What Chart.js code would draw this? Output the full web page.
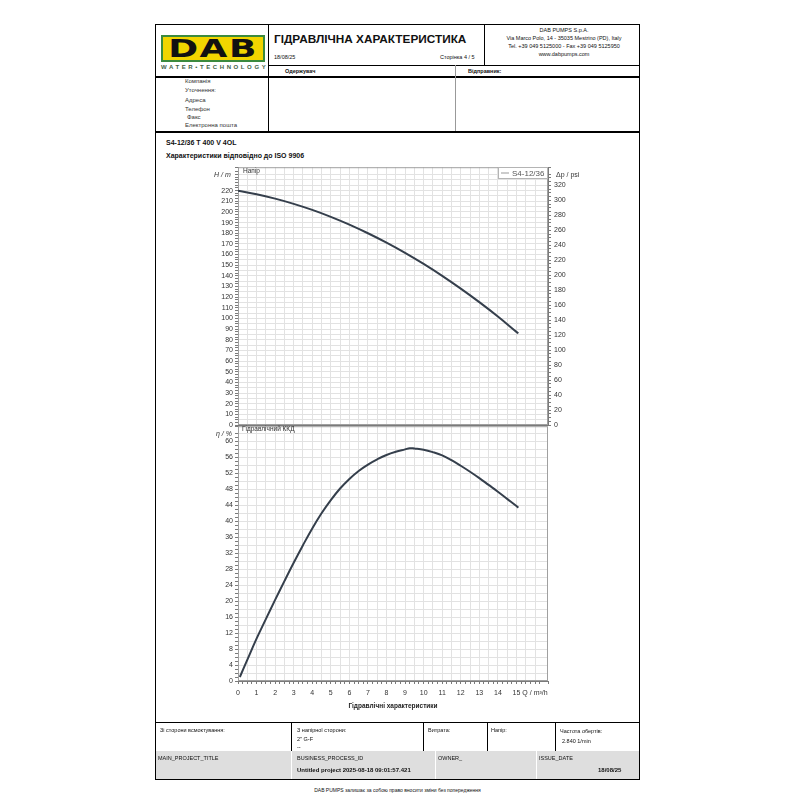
<!DOCTYPE html>
<html>
<head>
<meta charset="utf-8">
<script src="https://cdn.jsdelivr.net/npm/chart.js@4.4.0/dist/chart.umd.min.js"></script>
<style>
  body { margin: 0; background: #fff; font-family: "Liberation Sans", Arial, sans-serif; color: #111; }
  #page { position: relative; width: 800px; height: 800px; overflow: hidden; }
  .t { position: absolute; white-space: nowrap; line-height: 1; transform: translateY(-50%); }
  .b { font-weight: bold; }
  .h { position: absolute; height: 1px; background: #000; }
  .v { position: absolute; width: 1px; background: #000; }
  canvas { position: absolute; }
</style>
</head>
<body>
<div id="page">
  <!-- outer frame -->
  <div style="position:absolute;left:155px;top:24px;width:483px;height:754px;border:1.5px solid #000;"></div>

  <!-- header lines -->
  <div class="v" style="left:268px;top:24px;height:107px;"></div>
  <div class="v" style="left:484px;top:24px;height:41px;"></div>
  <div class="h" style="left:268px;top:65px;width:372px;"></div>
  <div class="h" style="left:155px;top:76px;width:485px;height:1.5px;"></div>
  <div class="v" style="left:455px;top:65px;height:66px;background:#999;"></div>
  <div class="h" style="left:155px;top:131px;width:485px;height:1.5px;"></div>

  <!-- logo -->
  <div style="position:absolute;left:161px;top:35px;width:100px;height:23px;background:#f2d500;border:2px solid #3b8a3e;overflow:hidden;">
    <div style="position:absolute;left:0;top:-2px;width:100px;text-align:center;font:900 24px 'DejaVu Sans';letter-spacing:1px;transform:scaleX(1.5);color:#111;">DAB</div>
  </div>
  <div class="t b" style="left:161px;top:67px;font-size:6px;letter-spacing:2.6px;color:#3f5f44;">WATER•TECHNOLOGY</div>

  <!-- title cell -->
  <div class="t b" style="left:274px;top:40px;font-size:11.8px;">ГІДРАВЛІЧНА ХАРАКТЕРИСТИКА</div>
  <div class="t" style="left:274px;top:58px;font-size:5.5px;">18/08/25</div>
  <div class="t" style="left:440px;top:58px;font-size:5.5px;">Сторінка 4 / 5</div>

  <!-- company cell -->
  <div class="t" style="left:488px;width:152px;text-align:center;top:31px;font-size:5.5px;">DAB PUMPS S.p.A.</div>
  <div class="t" style="left:488px;width:152px;text-align:center;top:39px;font-size:5.5px;">Via Marco Polo, 14 - 35035 Mestrino (PD), Italy</div>
  <div class="t" style="left:488px;width:152px;text-align:center;top:47px;font-size:5.5px;">Tel. +39 049 5125000 - Fax +39 049 5125950</div>
  <div class="t" style="left:488px;width:152px;text-align:center;top:55px;font-size:5.5px;">www.dabpumps.com</div>

  <div class="t b" style="left:285px;top:72px;font-size:5.5px;">Одержувач</div>
  <div class="t b" style="left:468px;top:72px;font-size:5.5px;">Відправник:</div>

  <div class="t" style="left:185px;top:81px;font-size:6px;color:#333;">Компанія</div>
  <div class="t" style="left:185px;top:90px;font-size:6px;color:#333;">Уточнення:</div>
  <div class="t" style="left:185px;top:100px;font-size:6px;color:#333;">Адреса</div>
  <div class="t" style="left:185px;top:109px;font-size:6px;color:#333;">Телефон</div>
  <div class="t" style="left:187px;top:117px;font-size:6px;color:#333;">Факс</div>
  <div class="t" style="left:185px;top:125px;font-size:6px;color:#333;">Електронна пошта</div>

  <!-- chart section titles -->
  <div class="t b" style="left:166px;top:142px;font-size:7px;">S4-12/36 T 400 V 4OL</div>
  <div class="t b" style="left:166px;top:155px;font-size:7px;">Характеристики відповідно до ISO 9906</div>

  <canvas id="headChart" width="440" height="275" style="left:160px;top:160px;"></canvas>
  <canvas id="effChart" width="440" height="300" style="left:160px;top:420px;"></canvas>

  <div class="t" style="left:214px;top:174px;font-size:7px;font-style:italic;color:#333;">H / m</div>
  <div class="t" style="left:556px;top:174px;font-size:7px;color:#333;">Δp / psi</div>
  <div class="t" style="left:243px;top:171px;font-size:6.5px;color:#333;">Напір</div>
  <div class="t" style="left:216px;top:433px;font-size:7px;font-style:italic;color:#333;">η / %</div>
  <div class="t" style="left:242px;top:429px;font-size:6.5px;color:#333;">Гідравлічний ККД</div>

  <!-- footer -->
  <div class="h" style="left:155px;top:722px;width:485px;"></div>
  <div class="v" style="left:291px;top:722px;height:29px;"></div>
  <div class="v" style="left:423px;top:722px;height:29px;"></div>
  <div class="v" style="left:487px;top:722px;height:29px;"></div>
  <div class="v" style="left:555px;top:722px;height:29px;"></div>
  <div class="t" style="left:160px;top:731px;font-size:5.5px;">Зі сторони всмоктування:</div>
  <div class="t" style="left:297px;top:731px;font-size:5.5px;">З напірної сторони:</div>
  <div class="t" style="left:297px;top:740px;font-size:5.5px;">2" G-F</div>
  <div class="t" style="left:297px;top:748px;font-size:5.5px;">--</div>
  <div class="t" style="left:428px;top:731px;font-size:5.5px;">Витрата:</div>
  <div class="t" style="left:491px;top:731px;font-size:5.5px;">Напір:</div>
  <div class="t" style="left:560px;top:732px;font-size:5.5px;">Частота обертів:</div>
  <div class="t" style="left:562px;top:742px;font-size:5.5px;">2.840 1/min</div>

  <div style="position:absolute;left:156px;top:751px;width:135px;height:28px;background:#dedede;"></div>
  <div style="position:absolute;left:292px;top:751px;width:143px;height:28px;background:#dedede;"></div>
  <div style="position:absolute;left:436px;top:751px;width:100px;height:28px;background:#dedede;"></div>
  <div style="position:absolute;left:537px;top:751px;width:102px;height:28px;background:#dedede;"></div>
  <div class="t" style="left:158px;top:759px;font-size:5.5px;">MAIN_PROJECT_TITLE</div>
  <div class="t" style="left:297px;top:759px;font-size:5.5px;">BUSINESS_PROCESS_ID</div>
  <div class="t b" style="left:297px;top:770px;font-size:6px;">Untitled project 2025-08-18 09:01:57.421</div>
  <div class="t" style="left:438px;top:759px;font-size:5.5px;">OWNER_</div>
  <div class="t" style="left:539px;top:759px;font-size:5.5px;">ISSUE_DATE</div>
  <div class="t b" style="left:598px;top:770px;font-size:6px;">18/08/25</div>

  <div class="t" style="left:0;width:795px;text-align:center;top:790px;font-size:5px;">DAB PUMPS залишає за собою право вносити зміни без попередження</div>
</div>

<script>
// head curve H(Q)
const flowQ = [0, 1, 2, 3, 4, 5, 6, 7, 8, 9, 10, 11, 12, 13, 14, 15, 15.1];
const headH = [220, 216.6, 212.5, 207.6, 201.9, 195.4, 188.1, 180.0, 171.2, 161.6, 151.2, 140.0, 128.0, 115.3, 101.8, 87.4, 86.0];

// hydraulic efficiency curve
const effQ = [0.1, 0.5, 1, 1.5, 2, 2.5, 3, 3.5, 4, 4.5, 5, 5.5, 6, 6.5, 7, 7.5, 8, 8.5, 9, 9.25, 9.5, 10, 10.5, 11, 11.5, 12, 12.5, 13, 13.5, 14, 14.5, 15, 15.1];
const effPct = [1.0, 5.3, 10.6, 15.5, 20.3, 25.0, 29.6, 34.0, 38.2, 42.0, 45.3, 48.2, 50.6, 52.6, 54.2, 55.5, 56.6, 57.4, 58.0, 58.3, 58.2, 57.9, 57.3, 56.5, 55.3, 53.9, 52.4, 50.8, 49.1, 47.4, 45.6, 43.8, 43.4];

const seriesName = 'S4-12/36';
const Q_MAX = 16.7;
const H_MAX = 242;
const M_TO_PSI = 1.42233;
const ETA_MAX = 63.8;

const CURVE = '#353f4c';
const GRID = '#e2e2e2';
const AXIS = '#7a7a7a';
const FONT = '"Liberation Sans", Arial, sans-serif';

Chart.defaults.font.family = FONT;
Chart.defaults.font.size = 7;
Chart.defaults.color = '#333';

const isMult = (v, m) => Math.abs(v / m - Math.round(v / m)) < 1e-6;
const gridEvery = (m) => (c) => (c.tick && isMult(c.tick.value, m)) ? GRID : 'rgba(0,0,0,0)';

const framePlugin = {
  id: 'frame',
  beforeDatasetsDraw(chart) {
    const { ctx, chartArea: a } = chart;
    ctx.save();
    ctx.strokeStyle = '#a0a0a0';
    ctx.lineWidth = 1;
    ctx.strokeRect(a.left + 0.5, a.top + 0.5, a.right - a.left - 1, a.bottom - a.top - 1);
    ctx.restore();
  },
};

// small boxed legend in the top-right corner of the plot
const cornerLegendPlugin = {
  id: 'cornerLegend',
  afterDraw(chart) {
    const { ctx, chartArea: a } = chart;
    const label = chart.data.datasets[0].label;
    ctx.save();
    ctx.font = '8px ' + FONT;
    const w = Math.round(ctx.measureText(label).width + 17);
    const h = 11;
    const x = Math.round(a.right - w - 1);
    const y = Math.round(a.top);
    ctx.fillStyle = '#fff';
    ctx.fillRect(x, y, w, h);
    ctx.strokeStyle = '#b4b4b4';
    ctx.lineWidth = 1;
    ctx.strokeRect(x + 0.5, y + 0.5, w, h);
    ctx.strokeStyle = '#999';
    ctx.beginPath();
    ctx.moveTo(x + 3, y + h / 2 + 0.5);
    ctx.lineTo(x + 11, y + h / 2 + 0.5);
    ctx.stroke();
    ctx.fillStyle = '#555';
    ctx.textBaseline = 'middle';
    ctx.fillText(label, x + 14, y + h / 2 + 1);
    ctx.restore();
  },
};

const xBase = {
  type: 'linear',
  min: 0,
  max: Q_MAX,
  border: { color: AXIS },
};

// --- Head chart ---
new Chart(document.getElementById('headChart'), {
  type: 'line',
  data: {
    datasets: [{
      label: seriesName,
      data: flowQ.map((q, i) => ({ x: q, y: headH[i] })),
      borderColor: CURVE,
      borderWidth: 2,
      pointRadius: 0,
      tension: 0.4,
      yAxisID: 'y',
    }],
  },
  options: {
    responsive: false,
    animation: false,
    layout: { padding: { top: 6, bottom: 10, left: 0, right: 0 } },
    plugins: {
      legend: { display: false },
      tooltip: { enabled: false },
    },
    scales: {
      x: {
        ...xBase,
        ticks: { display: false, stepSize: 0.25, autoSkip: false },
        grid: { color: gridEvery(0.5), drawTicks: false },
        afterFit: (s) => { s.height = 0; },
      },
      y: {
        type: 'linear',
        position: 'left',
        min: 0,
        max: H_MAX,
        border: { color: AXIS },
        ticks: {
          stepSize: 2.5,
          autoSkip: false,
          padding: 2,
          callback: (v) => (isMult(v, 10) && v <= 220) ? String(v) : '',
        },
        grid: { color: gridEvery(5), tickColor: AXIS, tickLength: 3 },
        afterFit: (s) => { s.width = 78; },
      },
      psi: {
        type: 'linear',
        position: 'right',
        min: 0,
        max: H_MAX * M_TO_PSI,
        border: { color: AXIS },
        ticks: {
          stepSize: 5,
          autoSkip: false,
          padding: 3,
          callback: (v) => (isMult(v, 20) && v <= 320) ? String(v) : '',
        },
        grid: { drawOnChartArea: false, tickColor: AXIS, tickLength: 3 },
        afterFit: (s) => { s.width = 52; },
      },
    },
  },
  plugins: [framePlugin, cornerLegendPlugin],
});

// --- Efficiency chart ---
new Chart(document.getElementById('effChart'), {
  type: 'line',
  data: {
    datasets: [{
      label: 'Гідравлічний ККД',
      data: effQ.map((q, i) => ({ x: q, y: effPct[i] })),
      borderColor: CURVE,
      borderWidth: 2,
      pointRadius: 0,
      tension: 0.4,
    }],
  },
  options: {
    responsive: false,
    animation: false,
    layout: { padding: { top: 0, bottom: 0, left: 0, right: 52 } },
    plugins: {
      legend: { display: false },
      tooltip: { enabled: false },
    },
    scales: {
      x: {
        ...xBase,
        ticks: {
          stepSize: 0.25,
          autoSkip: false,
          maxRotation: 0,
          padding: 5,
          callback: (v) => {
            if (!isMult(v, 1)) return '';
            return Math.round(v) === 16 ? 'Q / m³/h' : String(Math.round(v));
          },
        },
        grid: { color: gridEvery(0.5), tickColor: AXIS, tickLength: 3 },
        title: {
          display: true,
          text: 'Гідравлічні характеристики',
          font: { size: 6.5, weight: 'bold' },
          color: '#222',
          padding: { top: 4, bottom: 10 },
        },
        afterFit: (s) => { s.height = 39; },
      },
      y: {
        type: 'linear',
        position: 'left',
        min: 0,
        max: ETA_MAX,
        border: { color: AXIS },
        ticks: {
          stepSize: 1,
          autoSkip: false,
          padding: 2,
          callback: (v) => (isMult(v, 4) && v <= 60) ? String(v) : '',
        },
        grid: { color: gridEvery(2), tickColor: AXIS, tickLength: 3 },
        afterFit: (s) => { s.width = 78; },
      },
    },
  },
  plugins: [framePlugin],
});
</script>
</body>
</html>
